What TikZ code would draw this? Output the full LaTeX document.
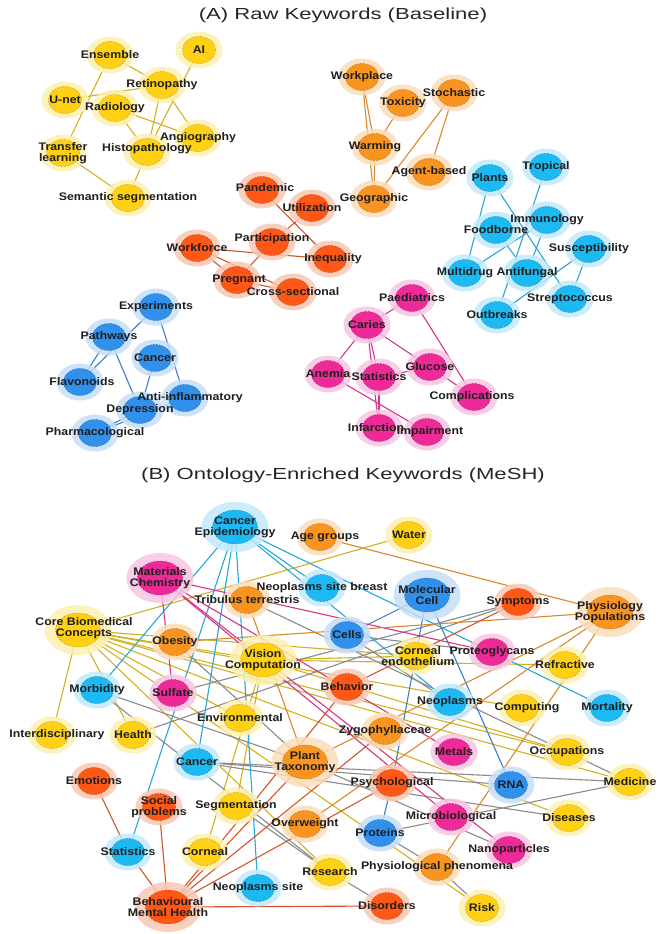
\documentclass[tikz,border=0pt]{standalone}
\usepackage{fontspec}
\setmainfont{Liberation Sans}
\newfontfamily\labfont{Liberation Sans}[FakeStretch=1.12]
\newfontfamily\ttlfont{Liberation Sans}[FakeStretch=1.38]
\usetikzlibrary{shapes.geometric}
\pgfdeclarelayer{back}\pgfdeclarelayer{bg}\pgfdeclarelayer{fg}\pgfsetlayers{back,bg,main,fg}
\definecolor{yelF}{HTML}{FFD014}\definecolor{yelH}{HTML}{FDF0B0}\definecolor{yelD}{HTML}{B89500}\definecolor{yelE}{HTML}{D2B21E}
\definecolor{oraF}{HTML}{F8941F}\definecolor{oraH}{HTML}{FBDDBB}\definecolor{oraD}{HTML}{B86400}\definecolor{oraE}{HTML}{D9892B}
\definecolor{redF}{HTML}{FF5715}\definecolor{redH}{HTML}{F9C7B3}\definecolor{redD}{HTML}{B33A00}\definecolor{redE}{HTML}{D6542A}
\definecolor{cyaF}{HTML}{1DB9F2}\definecolor{cyaH}{HTML}{C3E9FA}\definecolor{cyaD}{HTML}{0A7FAE}\definecolor{cyaE}{HTML}{26A7D8}
\definecolor{bluF}{HTML}{3090EC}\definecolor{bluH}{HTML}{C6DDF7}\definecolor{bluD}{HTML}{1A5FAF}\definecolor{bluE}{HTML}{3A7FCF}
\definecolor{pinF}{HTML}{EE2A98}\definecolor{pinH}{HTML}{F8C5E1}\definecolor{pinD}{HTML}{A8106A}\definecolor{pinE}{HTML}{D43587}
\definecolor{gryE}{HTML}{8A8A8A}
\tikzset{
  halos/.style={ellipse, inner sep=0, minimum width=47, minimum height=37, fill opacity=0.85},
  halob/.style={ellipse, inner sep=0, minimum width=67, minimum height=50, fill opacity=0.85},
  kws/.style={ellipse, inner sep=0, minimum width=33, minimum height=27, dash pattern=on 1.5pt off 1.5pt, line width=0.4},
  kwb/.style={ellipse, inner sep=0, minimum width=45, minimum height=34, dash pattern=on 1.5pt off 1.5pt, line width=0.4},
  lab/.style={font=\labfont\bfseries\fontsize{11}{11}\selectfont, text=black!88, align=center, inner sep=0},
  ttl/.style={font=\ttlfont\fontsize{16}{16}\selectfont, text=black!85, inner sep=0},
  eY/.style={draw=yelE, line width=1.1},
  eO/.style={draw=oraE, line width=1.1},
  eR/.style={draw=redE, line width=1.1},
  eC/.style={draw=cyaE, line width=1.1},
  eB/.style={draw=bluE, line width=1.1},
  eP/.style={draw=pinE, line width=1.1},
  eG/.style={draw=gryE, line width=1.1}
}
% #1 label options, #2 name, #3 x, #4 y, #5 colour, #6 size s/b, #7 label
\newcommand\kwd[7][]{%
  \node[halo#6, fill=#5H] (#2-h) at (#3,#4) {};
  \node[kw#6, fill=#5F, draw=#5D] (#2) at (#3,#4) {};
  \begin{pgfonlayer}{fg}\node[lab,#1] (#2-t) at (#3,#4) {#7};\end{pgfonlayer}%
}
\begin{document}
\begin{tikzpicture}[x=1pt,y=-1pt]
\useasboundingbox (0,0) rectangle (664,934);
\begin{pgfonlayer}{back}\fill[white] (0,0) rectangle (664,934);\end{pgfonlayer}
\node[ttl] (ta) at (343,15) {(A) Raw Keywords (Baseline)};
\node[ttl] (tb) at (343,475) {(B) Ontology-Enriched Keywords (MeSH)};
% ---------- Part A ----------
\kwd{ens}{110}{55}{yel}{s}{Ensemble}
\kwd{ai}{199}{50}{yel}{s}{AI}
\kwd{ret}{162}{85}{yel}{s}{Retinopathy}
\kwd{unet}{65}{100}{yel}{s}{U-net}
\kwd{rad}{115}{108}{yel}{s}{Radiology}
\kwd{ang}{198}{138}{yel}{s}{Angiography}
\kwd[yshift=3]{his}{147}{152}{yel}{s}{Histopathology}
\kwd{tra}{63}{153}{yel}{s}{Transfer\\learning}
\kwd{sem}{128}{198}{yel}{s}{Semantic segmentation}
\kwd{wpl}{362}{77}{ora}{s}{Workplace}
\kwd{tox}{403}{103}{ora}{s}{Toxicity}
\kwd{sto}{454}{93}{ora}{s}{Stochastic}
\kwd{war}{375}{147}{ora}{s}{Warming}
\kwd{agb}{429}{172}{ora}{s}{Agent-based}
\kwd{geo}{374}{199}{ora}{s}{Geographic}
\kwd{pla}{490}{178}{cya}{s}{Plants}
\kwd{tro}{546}{167}{cya}{s}{Tropical}
\kwd{imm}{547}{220}{cya}{s}{Immunology}
\kwd{foo}{496}{230}{cya}{s}{Foodborne}
\kwd{mul}{465}{273}{cya}{s}{Multidrug}
\kwd{ant}{527}{273}{cya}{s}{Antifungal}
\kwd{sus}{589}{249}{cya}{s}{Susceptibility}
\kwd{str}{570}{299}{cya}{s}{Streptococcus}
\kwd{out}{497}{315}{cya}{s}{Outbreaks}
\kwd[xshift=3,yshift=2]{pan}{262}{190}{red}{s}{Pandemic}
\kwd{uti}{312}{208}{red}{s}{Utilization}
\kwd[yshift=3]{par}{272}{242}{red}{s}{Participation}
\kwd{wor}{197}{248}{red}{s}{Workforce}
\kwd[xshift=3]{ine}{330}{259}{red}{s}{Inequality}
\kwd[xshift=2]{pre}{237}{280}{red}{s}{Pregnant}
\kwd{cro}{293}{292}{red}{s}{Cross-sectional}
\kwd{pae}{412}{298}{pin}{s}{Paediatrics}
\kwd{car}{367}{325}{pin}{s}{Caries}
\kwd{glu}{430}{367}{pin}{s}{Glucose}
\kwd{ane}{328}{374}{pin}{s}{Anemia}
\kwd{sta}{379}{377}{pin}{s}{Statistics}
\kwd[xshift=-2]{com}{474}{397}{pin}{s}{Complications}
\kwd[xshift=-3]{inf}{379}{428}{pin}{s}{Infarction}
\kwd[xshift=3]{imp}{427}{432}{pin}{s}{Impairment}
\kwd{exp}{156}{307}{blu}{s}{Experiments}
\kwd{pat}{109}{337}{blu}{s}{Pathways}
\kwd{can}{155}{358}{blu}{s}{Cancer}
\kwd[xshift=2]{fla}{80}{382}{blu}{s}{Flavonoids}
\kwd[xshift=5]{aif}{185}{398}{blu}{s}{Anti-inflammatory}
\kwd{dep}{140}{410}{blu}{s}{Depression}
\kwd{pha}{95}{433}{blu}{s}{Pharmacological}
% ---------- Part B ----------
\kwd{ce}{235}{527}{cya}{b}{Cancer\\Epidemiology}
\kwd[xshift=5]{age}{320}{537}{ora}{s}{Age groups}
\kwd{wat}{409}{535}{yel}{s}{Water}
\kwd{mat}{160}{578}{pin}{b}{Materials\\Chemistry}
\kwd{nsb}{322}{588}{cya}{s}{Neoplasms site breast}
\kwd{tri}{247}{600}{ora}{s}{Tribulus terrestris}
\kwd{mc}{427}{595}{blu}{b}{Molecular\\Cell}
\kwd{sym}{518}{602}{red}{s}{Symptoms}
\kwd{pp}{610}{612}{ora}{b}{Physiology\\Populations}
\kwd[xshift=6,yshift=2]{core}{78}{630}{yel}{b}{Core Biomedical\\Concepts}
\kwd{obe}{175}{642}{ora}{s}{Obesity}
\kwd{vc}{263}{660}{yel}{b}{Vision\\Computation}
\kwd{cel}{347}{635}{blu}{s}{Cells}
\kwd[xshift=2]{cen}{416}{656}{yel}{s}{Corneal\\endothelium}
\kwd{prg}{492}{652}{pin}{s}{Proteoglycans}
\kwd{ref}{565}{665}{yel}{s}{Refractive}
\kwd{mor}{97}{690}{cya}{s}{Morbidity}
\kwd{sul}{173}{693}{pin}{s}{Sulfate}
\kwd{beh}{347}{687}{red}{s}{Behavior}
\kwd{neo}{450}{702}{cya}{s}{Neoplasms}
\kwd[xshift=5]{cmp}{522}{708}{yel}{s}{Computing}
\kwd{mrt}{607}{708}{cya}{s}{Mortality}
\kwd{env}{240}{718}{yel}{s}{Environmental}
\kwd[xshift=5]{int}{52}{735}{yel}{s}{Interdisciplinary}
\kwd{hea}{133}{735}{yel}{s}{Health}
\kwd{zyg}{385}{731}{ora}{s}{Zygophyllaceae}
\kwd{met}{454}{752}{pin}{s}{Metals}
\kwd{occ}{567}{752}{yel}{s}{Occupations}
\kwd{canb}{197}{762}{cya}{s}{Cancer}
\kwd{pt}{305}{762}{ora}{b}{Plant\\Taxonomy}
\kwd{emo}{94}{781}{red}{s}{Emotions}
\kwd{soc}{159}{807}{red}{s}{Social\\problems}
\kwd{seg}{236}{806}{yel}{s}{Segmentation}
\kwd{psy}{392}{783}{red}{s}{Psychological}
\kwd{rna}{511}{785}{blu}{s}{RNA}
\kwd{med}{630}{782}{yel}{s}{Medicine}
\kwd{ovw}{305}{824}{ora}{s}{Overweight}
\kwd{mic}{451}{817}{pin}{s}{Microbiological}
\kwd{dis}{569}{818}{yel}{s}{Diseases}
\kwd{pro}{380}{833}{blu}{s}{Proteins}
\kwd{stb}{128}{852}{cya}{s}{Statistics}
\kwd{cor}{205}{852}{yel}{s}{Corneal}
\kwd{nan}{509}{850}{pin}{s}{Nanoparticles}
\kwd{res}{330}{872}{yel}{s}{Research}
\kwd{phy}{437}{867}{ora}{s}{Physiological phenomena}
\kwd{nss}{258}{888}{cya}{s}{Neoplasms site}
\kwd{bmh}{168}{907}{red}{b}{Behavioural\\Mental Health}
\kwd{dso}{387}{906}{red}{s}{Disorders}
\kwd{risk}{482}{908}{yel}{s}{Risk}
% ---------- edges ----------
\begin{pgfonlayer}{bg}
\foreach \a/\b in {ens/ret,ens/tra,unet/ret,ai/his,ret/his,ret/ang,rad/ang,rad/his,his/sem,tra/sem}
  \draw[eY] (\a.center) -- (\b.center);
\foreach \a/\b in {wpl/war,wpl/geo,tox/war,war/geo,sto/geo,sto/agb}
  \draw[eO] (\a.center) -- (\b.center);
\foreach \a/\b in {pla/mul,pla/str,tro/out,imm/mul,imm/ant,sus/out,sus/str,foo/ant}
  \draw[eC] (\a.center) -- (\b.center);
\foreach \a/\b in {pan/ine,uti/par,wor/ine,wor/pre,wor/cro,par/pre,pre/cro}
  \draw[eR] (\a.center) -- (\b.center);
\foreach \a/\b in {pae/car,pae/com,car/ane,car/sta,car/glu,car/inf,glu/sta,glu/com,sta/inf,ane/imp}
  \draw[eP] (\a.center) -- (\b.center);
\foreach \a/\b in {fla/pat,fla/exp,exp/aif,pat/dep,can/dep,dep/pha,pha/aif}
  \draw[eB] (\a.center) -- (\b.center);
% B
\foreach \a/\b in {core/int,core/hea,core/wat,core/vc,core/cen,core/cmp,core/occ,core/med,core/dis,core/res,core/risk,core/env,vc/cen,vc/ref,vc/cor,vc/seg,vc/occ}
  \draw[eY] (\a.center) -- (\b.center);
\foreach \a/\b in {sul/sym,hea/sym,tri/med,obe/pt,mor/pt,canb/rna,canb/med,canb/dis,pro/med,pro/phy,phy/risk,mor/res,seg/res,res/dso,pt/nan,cel/neo,cel/prg}
  \draw[eG] (\a.center) -- (\b.center);
\foreach \a/\b in {ce/mor,ce/stb,ce/canb,ce/nss,ce/nsb,ce/neo,ce/mrt}
  \draw[eC] (\a.center) -- (\b.center);
\foreach \a/\b in {mc/cel,mc/psy,mc/rna,psy/pro}
  \draw[eB] (\a.center) -- (\b.center);
\foreach \a/\b in {mat/sul,mat/prg,mat/met,mat/mic,mat/nan}
  \draw[eP] (\a.center) -- (\b.center);
\foreach \a/\b in {age/pp,obe/pp,pp/ovw,pp/phy,pp/pt,tri/pt}
  \draw[eO] (\a.center) -- (\b.center);
\foreach \a/\b in {bmh/stb,bmh/soc,bmh/dso,bmh/pt,bmh/zyg,bmh/psy,bmh/beh,emo/stb,sym/beh}
  \draw[eR] (\a.center) -- (\b.center);
\end{pgfonlayer}
\end{tikzpicture}
\end{document}
